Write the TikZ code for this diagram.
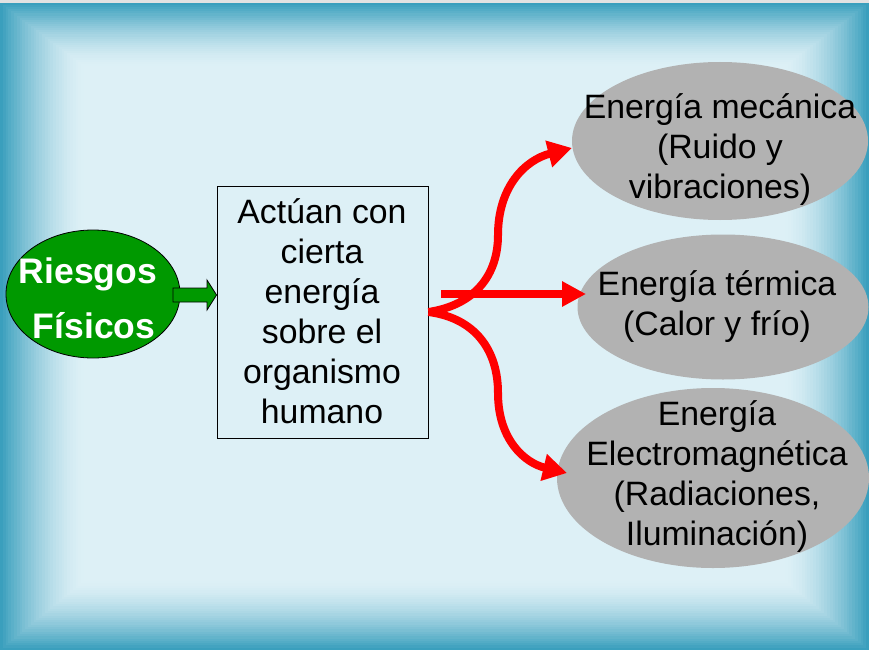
\documentclass[tikz,border=0pt]{standalone}
\usepackage{fontspec}
\setmainfont{Liberation Sans}
\usetikzlibrary{arrows.meta,shapes.geometric}
\definecolor{bgedge}{HTML}{3A9FBD}
\definecolor{bgmid}{HTML}{DDF0F6}
\definecolor{topgray}{HTML}{E2E2E2}
\definecolor{riskgreen}{HTML}{009900}
\definecolor{ellgray}{HTML}{B2B2B2}
\definecolor{arrowred}{HTML}{FF0000}
\begin{document}
\begin{tikzpicture}[x=1pt,y=-1pt,
  grayell/.style={ellipse, fill=ellgray, draw=none, inner sep=0pt},
  txt/.style={font=\fontsize{33.8}{40}\selectfont, align=center, inner sep=0pt, anchor=base, text=black},
  redarrow/.style={draw=arrowred, line width=8pt, -{Triangle[length=24pt,width=26pt]}},
  greenarrow/.style={draw=black, fill=riskgreen, line width=0.8pt, line join=miter}]
% background
\useasboundingbox (0,0) rectangle (869,650);
\fill[bgedge] (0,0) rectangle (869,650);
\foreach \i in {0,...,30}{
  \pgfmathsetmacro{\p}{100*(1-\i/30)^1.6}
  \fill[bgedge!\p!bgmid] (\i*2.8,3+\i*2.1) rectangle (869-\i*2.8,650-\i*2.3);
}
\fill[topgray] (0,0) rectangle (869,3);

% left ellipse
\node[ellipse, draw=black, fill=riskgreen, line width=0.8pt, minimum width=174pt, minimum height=128pt, inner sep=0pt] (rf) at (93,294) {};
\node[font=\fontsize{35.5}{55}\selectfont\bfseries, text=white, align=center, inner sep=0pt, anchor=base] (rftext) at (88,338) {Riesgos\\\hspace*{12pt}Físicos};

% box
\node[draw=black, line width=0.9pt, minimum width=211pt, minimum height=252pt, inner sep=0pt] (box) at (322.5,312) {};
\node[txt] (boxtext) at (322,423) {Actúan con\\cierta\\energía\\sobre el\\organismo\\humano};

% green block arrow
\filldraw[greenarrow] (173,288) -- (207,288) -- (207,280) -- (box.west |- 0,295) -- (207,310) -- (207,302) -- (173,302) -- cycle;

% grey ellipses
\node[grayell, minimum width=296pt, minimum height=158pt] (e1) at (720,141) {};
\node[grayell, minimum width=291pt, minimum height=145pt] (e2) at (723,307) {};
\node[grayell, minimum width=312pt, minimum height=180pt] (e3) at (713,478) {};
\node[txt] (t1) at (720,198) {Energía mecánica\\(Ruido y\\vibraciones)};
\node[txt] (t2) at (717,335) {Energía térmica\\(Calor y frío)};
\node[txt] (t3) at (717,545) {Energía\\Electromagnética\\(Radiaciones,\\Iluminación)};

% red arrows
\coordinate (s2) at (441,294);
\coordinate (h1) at (572,148);
\coordinate (h2) at (586,294);
\coordinate (h3) at (567,473);
\draw[redarrow] (box.east) .. controls (475,305) and (498,275) .. (498,235) .. controls (498,187) and (525,160) .. (h1);
\draw[redarrow, -{Triangle[length=24pt,width=24pt]}] (s2) -- (h2);
\draw[redarrow] (box.east) .. controls (475,318) and (498,350) .. (498,393) .. controls (498,440) and (525,463) .. (h3);
\end{tikzpicture}
\end{document}
